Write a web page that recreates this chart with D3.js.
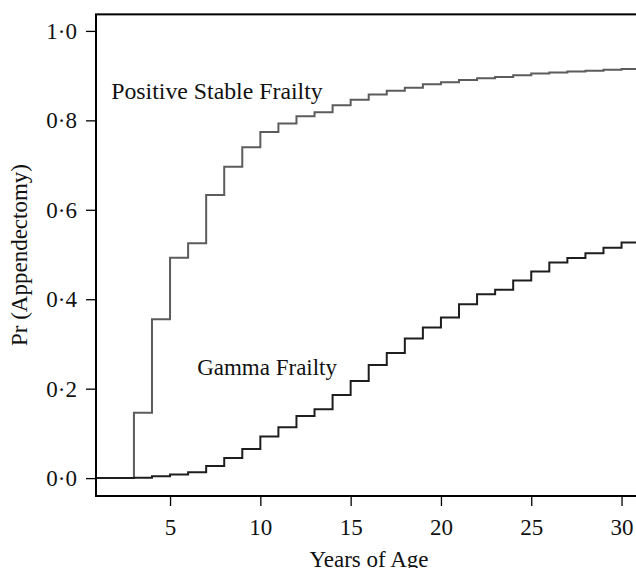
<!DOCTYPE html>
<html>
<head>
<meta charset="utf-8">
<script src="https://cdn.jsdelivr.net/npm/d3@7"></script>
<style>
  body { margin: 0; background: #fff; }
  svg { display: block; font-family: "Liberation Serif", "Times New Roman", serif; }
</style>
</head>
<body>
<div id="chart"></div>
<script>
// age in years (each step holds from this age to the next)
var ages = [1, 2, 3, 4, 5, 6, 7, 8, 9, 10, 11, 12, 13, 14, 15, 16, 17, 18, 19, 20,
            21, 22, 23, 24, 25, 26, 27, 28, 29, 30];

var positiveStable = [0, 0, 0.146, 0.355, 0.493, 0.525, 0.633, 0.696, 0.740, 0.774,
                      0.793, 0.809, 0.818, 0.834, 0.846, 0.858, 0.866, 0.873, 0.881, 0.885,
                      0.890, 0.894, 0.897, 0.901, 0.905, 0.907, 0.909, 0.911, 0.913, 0.915];

var gamma = [0, 0, 0.001, 0.004, 0.008, 0.013, 0.027, 0.045, 0.065, 0.093,
             0.114, 0.139, 0.154, 0.186, 0.217, 0.253, 0.280, 0.312, 0.337, 0.359,
             0.389, 0.411, 0.421, 0.442, 0.462, 0.482, 0.492, 0.503, 0.515, 0.527];

var xTicks = [5, 10, 15, 20, 25, 30];
var yTicks = [0, 0.2, 0.4, 0.6, 0.8, 1.0];

var width = 636, height = 568;
var xMin = 0.9, xMax = 31.5;
var yMin = -0.04, yMax = 1.037;

var x = d3.scaleLinear()
    .domain([xMin, xMax])
    .range([96, 96 + (xMax - xMin) * 18.06]);

var y = d3.scaleLinear()
    .domain([yMin, yMax])
    .range([496, 496 - (yMax - yMin) * 447.2]);

var svg = d3.select("#chart").append("svg")
    .attr("width", width)
    .attr("height", height);

var fmt = function(d) { return d3.format(".1f")(d).replace(".", "\u00b7"); };

var xAxis = d3.axisBottom(x).tickValues(xTicks).tickSize(10).tickPadding(13);
var yAxis = d3.axisLeft(y).tickValues(yTicks).tickSize(10).tickPadding(9).tickFormat(fmt);

var gx = svg.append("g")
    .attr("transform", "translate(0," + y(yMin) + ")")
    .call(xAxis);
var gy = svg.append("g")
    .attr("transform", "translate(" + x(xMin) + ",0)")
    .call(yAxis);

[gx, gy].forEach(function(g) {
    g.select(".domain").remove();
    g.selectAll(".tick line").attr("stroke", "#000").attr("stroke-width", 1.3);
    g.selectAll(".tick text")
        .attr("fill", "#111")
        .style("font-size", "23px")
        .style("font-family", "Liberation Serif, serif");
});

// step lines
var line = d3.line()
    .x(function(d) { return x(d[0]); })
    .y(function(d) { return y(d[1]); })
    .curve(d3.curveStepAfter);

function steps(values) {
    var pts = [[xMin, values[0]]];
    ages.forEach(function(a, i) { pts.push([a, values[i]]); });
    pts.push([xMax, values[values.length - 1]]);
    return pts;
}

svg.append("path")
    .datum(steps(positiveStable))
    .attr("fill", "none")
    .attr("stroke", "#5c5c5c")
    .attr("stroke-width", 2)
    .attr("d", line);

svg.append("path")
    .datum(steps(gamma))
    .attr("fill", "none")
    .attr("stroke", "#1e1e1e")
    .attr("stroke-width", 2)
    .attr("d", line);

// frame (right side runs past the picture)
svg.append("rect")
    .attr("x", x(xMin))
    .attr("y", y(yMax))
    .attr("width", x(xMax) - x(xMin))
    .attr("height", y(yMin) - y(yMax))
    .attr("fill", "none")
    .attr("stroke", "#000")
    .attr("stroke-width", 2);

// curve labels
svg.append("text")
    .attr("x", x(1.74))
    .attr("y", y(0.848))
    .attr("font-size", 23.8)
    .attr("fill", "#111")
    .text("Positive Stable Frailty");

svg.append("text")
    .attr("x", x(6.5))
    .attr("y", y(0.23))
    .attr("font-size", 23)
    .attr("fill", "#111")
    .text("Gamma Frailty");

// axis titles
svg.append("text")
    .attr("x", 369)
    .attr("y", 567)
    .attr("text-anchor", "middle")
    .attr("font-size", 23)
    .attr("fill", "#111")
    .text("Years of Age");

svg.append("text")
    .attr("transform", "translate(27,255) rotate(-90)")
    .attr("text-anchor", "middle")
    .attr("font-size", 23)
    .attr("fill", "#111")
    .text("Pr (Appendectomy)");
</script>
</body>
</html>
